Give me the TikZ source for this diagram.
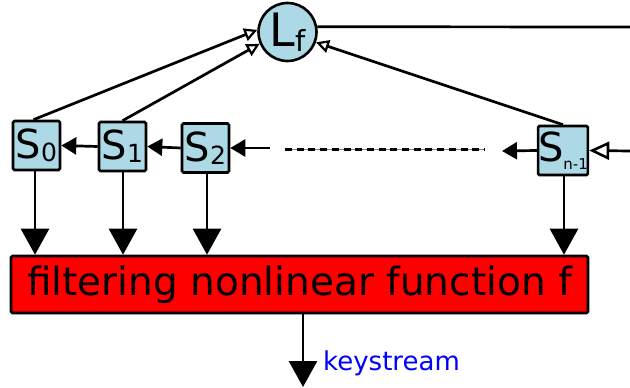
\documentclass[tikz,border=0pt]{standalone}
\usepackage{fontspec}
\setmainfont{DejaVu Sans}
\usetikzlibrary{arrows.meta}
\definecolor{cellblue}{RGB}{173,216,230}
\definecolor{ksblue}{RGB}{0,0,255}
\tikzset{
  cell/.style={draw, fill=cellblue, line width=2.6pt, rounded corners=1.5pt,
    minimum width=47pt, minimum height=49pt, inner sep=0pt,
    font=\fontsize{40}{40}\selectfont},
  conn/.style={line width=2.7pt},
  shiftarrow/.style={conn, -{Triangle[length=15pt,width=17pt]}},
  feed/.style={conn, -{Triangle[length=26pt,width=28pt]}},
  tap/.style={conn, -{Triangle[open,length=13pt,width=13pt,line width=2.2pt]}},
  inopen/.style={conn, -{Triangle[open,length=20pt,width=18pt,line width=2.6pt]}},
}
\begin{document}
\begin{tikzpicture}[x=1pt,y=-1pt]
\useasboundingbox (0,0) rectangle (630,388);

% register cells
\node[cell] (S0) at (36.5,145.5) {S\raisebox{-3pt}{\fontsize{25}{25}\selectfont 0}};
\node[cell] (S1) at (122.5,146.5) {S\raisebox{-3pt}{\fontsize{25}{25}\selectfont 1}};
\node[cell] (S2) at (205.5,148) {S\raisebox{-3pt}{\fontsize{25}{25}\selectfont 2}};
\node[cell] (Sn) at (563,150.5) {S\raisebox{-8pt}{\fontsize{15}{15}\selectfont n-1}};

% feedback function
\node[circle, draw, fill=cellblue, line width=2.6pt, minimum size=58pt, inner sep=0pt,
  font=\fontsize{46}{46}\selectfont] (Lf) at (287.5,32) {L\raisebox{-5pt}{\fontsize{29}{29}\selectfont f}};

% filter
\node[draw, fill=red, line width=2.6pt, rounded corners=1.5pt,
  minimum width=577pt, minimum height=57pt, inner sep=0pt,
  font=\fontsize{39}{39}\selectfont] (F) at (299.5,284.5) {filtering nonlinear function f};

% free ends
\coordinate (topR) at (630,27);
\coordinate (inR) at (630,151);
\coordinate (gapL) at (270,148);
\coordinate (gapR) at (502,151);
\coordinate (ks) at (303,387);

% feedback taps
\draw[tap] ([xshift=-3pt]S0.north) -- (Lf.176);
\draw[tap] (S1.north) -- (Lf.203);
\draw[tap] (Sn.north) -- (Lf.340);
\draw[conn] (Lf.10) -- (topR);

% shift chain
\draw[shiftarrow] (S1.west) -- (S0.east);
\draw[shiftarrow] (S2.west) -- (S1.east);
\draw[shiftarrow] (gapL) -- (S2.east);
\draw[line width=1pt, gray] (285,149) -- (485,149);
\draw[line width=3pt, dash pattern=on 7pt off 4.7pt] (285,149) -- (485,149);
\draw[shiftarrow] (Sn.west) -- (gapR);
\draw[inopen] (inR) -- (Sn.east);

% inputs to the filter
\foreach \c/\x in {S0/35, S1/123, S2/207, Sn/564}
  \draw[feed] (\c.south -| \x,0) -- (F.north -| \x,0);

% output
\draw[feed] (F.south -| ks) -- (ks);
\node[anchor=base west, text=ksblue, font=\fontsize{26}{26}\selectfont, inner sep=0pt]
  (kslabel) at (323,370) {keystream};
\end{tikzpicture}
\end{document}
